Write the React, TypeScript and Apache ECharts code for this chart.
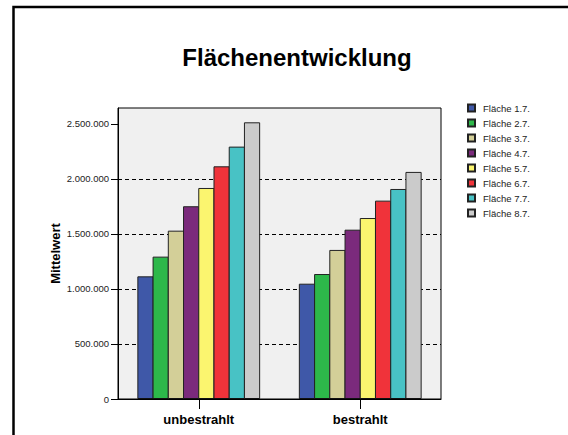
import React, { useEffect, useRef } from "react";
import * as echarts from "echarts";

const categories = ["unbestrahlt", "bestrahlt"];
const seriesNames = [
  "Fläche 1.7.",
  "Fläche 2.7.",
  "Fläche 3.7.",
  "Fläche 4.7.",
  "Fläche 5.7.",
  "Fläche 6.7.",
  "Fläche 7.7.",
  "Fläche 8.7.",
];
const flaeche1 = [1115000, 1048000];
const flaeche2 = [1294000, 1136000];
const flaeche3 = [1530000, 1355000];
const flaeche4 = [1752000, 1539000];
const flaeche5 = [1918000, 1645000];
const flaeche6 = [2115000, 1803000];
const flaeche7 = [2294000, 1909000];
const flaeche8 = [2515000, 2064000];
const seriesValues = [flaeche1, flaeche2, flaeche3, flaeche4, flaeche5, flaeche6, flaeche7, flaeche8];
const colors = ["#3f58a8", "#2db84a", "#d3cf98", "#7b2a7c", "#fbf56f", "#f0333a", "#48c2c5", "#cbcbcb"];
const yTicks = [0, 500000, 1000000, 1500000, 2000000, 2500000];
const yMax = 2645000;

const FONT = "'Liberation Sans', Arial, Helvetica, sans-serif";
const fmt = (v: number) => String(v).replace(/\B(?=(\d{3})+(?!\d))/g, ".");

export default function App() {
  const ref = useRef<HTMLDivElement>(null);
  useEffect(() => {
    if (!ref.current) return;
    const chart = echarts.init(ref.current, null, { renderer: "svg" });
    chart.setOption({
      animation: false,
      backgroundColor: "#ffffff",
      textStyle: { fontFamily: FONT },
      title: {
        text: "Flächenentwicklung",
        left: 292,
        top: 40,
        textAlign: "center",
        textStyle: { fontFamily: FONT, fontSize: 24, fontWeight: "bold", color: "#000" },
      },
      legend: {
        orient: "vertical",
        left: 467,
        top: 103,
        padding: 0,
        itemWidth: 7,
        itemHeight: 7,
        itemGap: 5,
        icon: "rect",
        data: seriesNames,
        textStyle: { fontFamily: FONT, fontSize: 9.5, color: "#222", lineHeight: 10, padding: [0, 0, 0, 3] },
      },
      grid: {
        left: 118,
        top: 108,
        width: 323,
        height: 291,
        show: true,
        backgroundColor: "#f0f0f0",
        borderWidth: 0,
        containLabel: false,
      },
      xAxis: {
        type: "category",
        data: categories,
        axisLine: { show: true, lineStyle: { color: "#000", width: 1 } },
        axisTick: { show: true, alignWithLabel: true, length: 10, lineStyle: { color: "#000" } },
        axisLabel: { fontFamily: FONT, fontSize: 13, fontWeight: "bold", color: "#000", margin: 14 },
        splitLine: { show: false },
      },
      yAxis: {
        type: "value",
        min: 0,
        max: yMax,
        interval: 500000,
        name: "Mittelwert",
        nameLocation: "middle",
        nameRotate: 90,
        nameGap: 56,
        nameMoveOverlap: false,
        nameTextStyle: { fontFamily: FONT, fontSize: 13, fontWeight: "bold", color: "#000" },
        axisLine: { show: true, lineStyle: { color: "#000" } },
        axisTick: { show: true, length: 7, lineStyle: { color: "#000" }, customValues: yTicks },
        axisLabel: {
          fontFamily: FONT,
          fontSize: 9.5,
          color: "#222",
          margin: 9,
          customValues: yTicks,
          formatter: (v: number) => (v % 500000 === 0 ? fmt(v) : ""),
        },
        splitLine: {
          show: true,
          showMinLine: false,
          showMaxLine: false,
          lineStyle: { color: "#000", type: [4, 3], width: 1 },
        },
      },
      series: seriesNames.map((name, i) => ({
        name,
        type: "bar",
        data: seriesValues[i],
        barWidth: 16.2,
        barGap: "-6%",
        itemStyle: { color: colors[i], borderColor: "#222", borderWidth: 1 },
      })),
      graphic: [
        {
          type: "rect",
          z: 100,
          shape: { x: 118, y: 108, width: 323, height: 291 },
          style: { fill: "none", stroke: "#000", lineWidth: 1 },
        },
        {
          type: "rect",
          z: 100,
          shape: { x: 13.5, y: 7, width: 620, height: 500 },
          style: { fill: "none", stroke: "#000", lineWidth: 2.5 },
        },
      ],
    });
    return () => chart.dispose();
  }, []);
  return (
    <div
      ref={ref}
      style={{ position: "absolute", left: 0, top: 0, width: 568, height: 435 }}
    />
  );
}
